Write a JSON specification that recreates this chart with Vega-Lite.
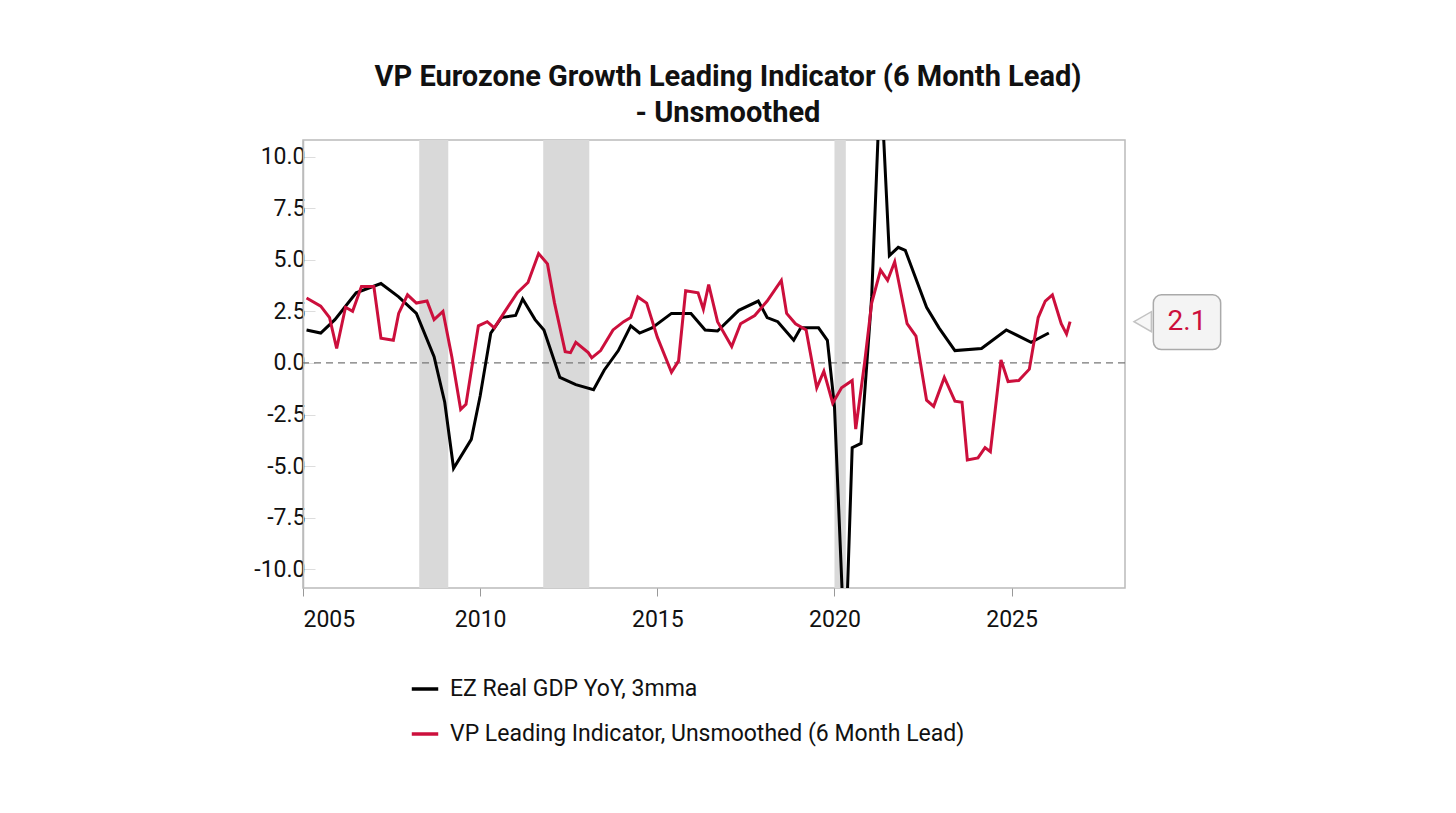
{
  "$schema": "https://vega.github.io/schema/vega-lite/v6.json",
  "autosize": {"type": "none"},
  "width": 822,
  "height": 448,
  "padding": {"left": 303, "top": 140, "right": 331, "bottom": 225},
  "background": "white",
  "config": {
    "font": "Roboto",
    "view": {"stroke": "#bbbbbb", "strokeWidth": 1.5},
    "axis": {"labelFont": "Roboto", "labelFontSize": 23, "labelColor": "#111", "grid": false}
  },
  "title": {
    "text": ["VP Eurozone Growth Leading Indicator (6 Month Lead)", "- Unsmoothed"],
    "fontSize": 29, "fontWeight": "bold", "font": "Roboto", "color": "#111",
    "anchor": "middle", "dx": 14, "offset": 12, "lineHeight": 36
  },
  "datasets": {
    "rec": [
      {"start": 2008.28, "end": 2009.1},
      {"start": 2011.78, "end": 2013.08},
      {"start": 2020.0, "end": 2020.32}
    ],
    "series": [
      {"date": 2005.1, "value": 1.6, "series": "EZ Real GDP YoY, 3mma"},
      {"date": 2005.5, "value": 1.45, "series": "EZ Real GDP YoY, 3mma"},
      {"date": 2005.9, "value": 2.1, "series": "EZ Real GDP YoY, 3mma"},
      {"date": 2006.5, "value": 3.4, "series": "EZ Real GDP YoY, 3mma"},
      {"date": 2007.2, "value": 3.85, "series": "EZ Real GDP YoY, 3mma"},
      {"date": 2007.7, "value": 3.2, "series": "EZ Real GDP YoY, 3mma"},
      {"date": 2008.2, "value": 2.4, "series": "EZ Real GDP YoY, 3mma"},
      {"date": 2008.7, "value": 0.3, "series": "EZ Real GDP YoY, 3mma"},
      {"date": 2009.0, "value": -1.9, "series": "EZ Real GDP YoY, 3mma"},
      {"date": 2009.25, "value": -5.1, "series": "EZ Real GDP YoY, 3mma"},
      {"date": 2009.75, "value": -3.7, "series": "EZ Real GDP YoY, 3mma"},
      {"date": 2010.0, "value": -1.6, "series": "EZ Real GDP YoY, 3mma"},
      {"date": 2010.3, "value": 1.45, "series": "EZ Real GDP YoY, 3mma"},
      {"date": 2010.6, "value": 2.2, "series": "EZ Real GDP YoY, 3mma"},
      {"date": 2011.0, "value": 2.3, "series": "EZ Real GDP YoY, 3mma"},
      {"date": 2011.2, "value": 3.1, "series": "EZ Real GDP YoY, 3mma"},
      {"date": 2011.55, "value": 2.1, "series": "EZ Real GDP YoY, 3mma"},
      {"date": 2011.8, "value": 1.6, "series": "EZ Real GDP YoY, 3mma"},
      {"date": 2012.25, "value": -0.7, "series": "EZ Real GDP YoY, 3mma"},
      {"date": 2012.7, "value": -1.05, "series": "EZ Real GDP YoY, 3mma"},
      {"date": 2013.2, "value": -1.3, "series": "EZ Real GDP YoY, 3mma"},
      {"date": 2013.5, "value": -0.35, "series": "EZ Real GDP YoY, 3mma"},
      {"date": 2013.9, "value": 0.6, "series": "EZ Real GDP YoY, 3mma"},
      {"date": 2014.25, "value": 1.8, "series": "EZ Real GDP YoY, 3mma"},
      {"date": 2014.5, "value": 1.45, "series": "EZ Real GDP YoY, 3mma"},
      {"date": 2014.85, "value": 1.7, "series": "EZ Real GDP YoY, 3mma"},
      {"date": 2015.4, "value": 2.4, "series": "EZ Real GDP YoY, 3mma"},
      {"date": 2015.95, "value": 2.4, "series": "EZ Real GDP YoY, 3mma"},
      {"date": 2016.35, "value": 1.6, "series": "EZ Real GDP YoY, 3mma"},
      {"date": 2016.7, "value": 1.55, "series": "EZ Real GDP YoY, 3mma"},
      {"date": 2017.3, "value": 2.55, "series": "EZ Real GDP YoY, 3mma"},
      {"date": 2017.85, "value": 3.0, "series": "EZ Real GDP YoY, 3mma"},
      {"date": 2018.1, "value": 2.2, "series": "EZ Real GDP YoY, 3mma"},
      {"date": 2018.4, "value": 2.0, "series": "EZ Real GDP YoY, 3mma"},
      {"date": 2018.85, "value": 1.1, "series": "EZ Real GDP YoY, 3mma"},
      {"date": 2019.05, "value": 1.7, "series": "EZ Real GDP YoY, 3mma"},
      {"date": 2019.55, "value": 1.7, "series": "EZ Real GDP YoY, 3mma"},
      {"date": 2019.8, "value": 1.1, "series": "EZ Real GDP YoY, 3mma"},
      {"date": 2020.0, "value": -2.1, "series": "EZ Real GDP YoY, 3mma"},
      {"date": 2020.3, "value": -14.5, "series": "EZ Real GDP YoY, 3mma"},
      {"date": 2020.5, "value": -4.1, "series": "EZ Real GDP YoY, 3mma"},
      {"date": 2020.75, "value": -3.9, "series": "EZ Real GDP YoY, 3mma"},
      {"date": 2021.05, "value": 3.2, "series": "EZ Real GDP YoY, 3mma"},
      {"date": 2021.3, "value": 14.0, "series": "EZ Real GDP YoY, 3mma"},
      {"date": 2021.55, "value": 5.2, "series": "EZ Real GDP YoY, 3mma"},
      {"date": 2021.8, "value": 5.6, "series": "EZ Real GDP YoY, 3mma"},
      {"date": 2022.0, "value": 5.45, "series": "EZ Real GDP YoY, 3mma"},
      {"date": 2022.6, "value": 2.7, "series": "EZ Real GDP YoY, 3mma"},
      {"date": 2022.95, "value": 1.7, "series": "EZ Real GDP YoY, 3mma"},
      {"date": 2023.4, "value": 0.6, "series": "EZ Real GDP YoY, 3mma"},
      {"date": 2024.15, "value": 0.7, "series": "EZ Real GDP YoY, 3mma"},
      {"date": 2024.85, "value": 1.6, "series": "EZ Real GDP YoY, 3mma"},
      {"date": 2025.55, "value": 1.0, "series": "EZ Real GDP YoY, 3mma"},
      {"date": 2026.05, "value": 1.45, "series": "EZ Real GDP YoY, 3mma"},
      {"date": 2005.1, "value": 3.15, "series": "VP Leading Indicator, Unsmoothed (6 Month Lead)"},
      {"date": 2005.5, "value": 2.75, "series": "VP Leading Indicator, Unsmoothed (6 Month Lead)"},
      {"date": 2005.75, "value": 2.2, "series": "VP Leading Indicator, Unsmoothed (6 Month Lead)"},
      {"date": 2005.95, "value": 0.7, "series": "VP Leading Indicator, Unsmoothed (6 Month Lead)"},
      {"date": 2006.2, "value": 2.7, "series": "VP Leading Indicator, Unsmoothed (6 Month Lead)"},
      {"date": 2006.4, "value": 2.5, "series": "VP Leading Indicator, Unsmoothed (6 Month Lead)"},
      {"date": 2006.65, "value": 3.7, "series": "VP Leading Indicator, Unsmoothed (6 Month Lead)"},
      {"date": 2007.0, "value": 3.7, "series": "VP Leading Indicator, Unsmoothed (6 Month Lead)"},
      {"date": 2007.2, "value": 1.2, "series": "VP Leading Indicator, Unsmoothed (6 Month Lead)"},
      {"date": 2007.55, "value": 1.1, "series": "VP Leading Indicator, Unsmoothed (6 Month Lead)"},
      {"date": 2007.7, "value": 2.4, "series": "VP Leading Indicator, Unsmoothed (6 Month Lead)"},
      {"date": 2007.95, "value": 3.3, "series": "VP Leading Indicator, Unsmoothed (6 Month Lead)"},
      {"date": 2008.2, "value": 2.9, "series": "VP Leading Indicator, Unsmoothed (6 Month Lead)"},
      {"date": 2008.5, "value": 3.0, "series": "VP Leading Indicator, Unsmoothed (6 Month Lead)"},
      {"date": 2008.7, "value": 2.1, "series": "VP Leading Indicator, Unsmoothed (6 Month Lead)"},
      {"date": 2008.95, "value": 2.5, "series": "VP Leading Indicator, Unsmoothed (6 Month Lead)"},
      {"date": 2009.2, "value": 0.3, "series": "VP Leading Indicator, Unsmoothed (6 Month Lead)"},
      {"date": 2009.45, "value": -2.25, "series": "VP Leading Indicator, Unsmoothed (6 Month Lead)"},
      {"date": 2009.6, "value": -2.0, "series": "VP Leading Indicator, Unsmoothed (6 Month Lead)"},
      {"date": 2009.95, "value": 1.8, "series": "VP Leading Indicator, Unsmoothed (6 Month Lead)"},
      {"date": 2010.2, "value": 2.0, "series": "VP Leading Indicator, Unsmoothed (6 Month Lead)"},
      {"date": 2010.4, "value": 1.7, "series": "VP Leading Indicator, Unsmoothed (6 Month Lead)"},
      {"date": 2010.7, "value": 2.5, "series": "VP Leading Indicator, Unsmoothed (6 Month Lead)"},
      {"date": 2011.05, "value": 3.4, "series": "VP Leading Indicator, Unsmoothed (6 Month Lead)"},
      {"date": 2011.35, "value": 3.9, "series": "VP Leading Indicator, Unsmoothed (6 Month Lead)"},
      {"date": 2011.65, "value": 5.3, "series": "VP Leading Indicator, Unsmoothed (6 Month Lead)"},
      {"date": 2011.9, "value": 4.8, "series": "VP Leading Indicator, Unsmoothed (6 Month Lead)"},
      {"date": 2012.1, "value": 2.9, "series": "VP Leading Indicator, Unsmoothed (6 Month Lead)"},
      {"date": 2012.4, "value": 0.55, "series": "VP Leading Indicator, Unsmoothed (6 Month Lead)"},
      {"date": 2012.55, "value": 0.5, "series": "VP Leading Indicator, Unsmoothed (6 Month Lead)"},
      {"date": 2012.7, "value": 1.0, "series": "VP Leading Indicator, Unsmoothed (6 Month Lead)"},
      {"date": 2013.05, "value": 0.5, "series": "VP Leading Indicator, Unsmoothed (6 Month Lead)"},
      {"date": 2013.15, "value": 0.25, "series": "VP Leading Indicator, Unsmoothed (6 Month Lead)"},
      {"date": 2013.4, "value": 0.6, "series": "VP Leading Indicator, Unsmoothed (6 Month Lead)"},
      {"date": 2013.75, "value": 1.6, "series": "VP Leading Indicator, Unsmoothed (6 Month Lead)"},
      {"date": 2014.05, "value": 2.0, "series": "VP Leading Indicator, Unsmoothed (6 Month Lead)"},
      {"date": 2014.25, "value": 2.2, "series": "VP Leading Indicator, Unsmoothed (6 Month Lead)"},
      {"date": 2014.45, "value": 3.2, "series": "VP Leading Indicator, Unsmoothed (6 Month Lead)"},
      {"date": 2014.7, "value": 2.9, "series": "VP Leading Indicator, Unsmoothed (6 Month Lead)"},
      {"date": 2015.0, "value": 1.25, "series": "VP Leading Indicator, Unsmoothed (6 Month Lead)"},
      {"date": 2015.4, "value": -0.45, "series": "VP Leading Indicator, Unsmoothed (6 Month Lead)"},
      {"date": 2015.6, "value": 0.1, "series": "VP Leading Indicator, Unsmoothed (6 Month Lead)"},
      {"date": 2015.8, "value": 3.5, "series": "VP Leading Indicator, Unsmoothed (6 Month Lead)"},
      {"date": 2016.15, "value": 3.4, "series": "VP Leading Indicator, Unsmoothed (6 Month Lead)"},
      {"date": 2016.3, "value": 2.6, "series": "VP Leading Indicator, Unsmoothed (6 Month Lead)"},
      {"date": 2016.45, "value": 3.8, "series": "VP Leading Indicator, Unsmoothed (6 Month Lead)"},
      {"date": 2016.7, "value": 2.0, "series": "VP Leading Indicator, Unsmoothed (6 Month Lead)"},
      {"date": 2017.1, "value": 0.8, "series": "VP Leading Indicator, Unsmoothed (6 Month Lead)"},
      {"date": 2017.35, "value": 1.9, "series": "VP Leading Indicator, Unsmoothed (6 Month Lead)"},
      {"date": 2017.75, "value": 2.3, "series": "VP Leading Indicator, Unsmoothed (6 Month Lead)"},
      {"date": 2018.1, "value": 3.0, "series": "VP Leading Indicator, Unsmoothed (6 Month Lead)"},
      {"date": 2018.5, "value": 4.0, "series": "VP Leading Indicator, Unsmoothed (6 Month Lead)"},
      {"date": 2018.65, "value": 2.4, "series": "VP Leading Indicator, Unsmoothed (6 Month Lead)"},
      {"date": 2018.9, "value": 1.9, "series": "VP Leading Indicator, Unsmoothed (6 Month Lead)"},
      {"date": 2019.2, "value": 1.6, "series": "VP Leading Indicator, Unsmoothed (6 Month Lead)"},
      {"date": 2019.5, "value": -1.2, "series": "VP Leading Indicator, Unsmoothed (6 Month Lead)"},
      {"date": 2019.7, "value": -0.4, "series": "VP Leading Indicator, Unsmoothed (6 Month Lead)"},
      {"date": 2019.95, "value": -1.95, "series": "VP Leading Indicator, Unsmoothed (6 Month Lead)"},
      {"date": 2020.2, "value": -1.2, "series": "VP Leading Indicator, Unsmoothed (6 Month Lead)"},
      {"date": 2020.5, "value": -0.85, "series": "VP Leading Indicator, Unsmoothed (6 Month Lead)"},
      {"date": 2020.6, "value": -3.2, "series": "VP Leading Indicator, Unsmoothed (6 Month Lead)"},
      {"date": 2020.85, "value": 0.0, "series": "VP Leading Indicator, Unsmoothed (6 Month Lead)"},
      {"date": 2021.05, "value": 2.9, "series": "VP Leading Indicator, Unsmoothed (6 Month Lead)"},
      {"date": 2021.3, "value": 4.5, "series": "VP Leading Indicator, Unsmoothed (6 Month Lead)"},
      {"date": 2021.5, "value": 4.0, "series": "VP Leading Indicator, Unsmoothed (6 Month Lead)"},
      {"date": 2021.7, "value": 4.9, "series": "VP Leading Indicator, Unsmoothed (6 Month Lead)"},
      {"date": 2022.05, "value": 1.9, "series": "VP Leading Indicator, Unsmoothed (6 Month Lead)"},
      {"date": 2022.3, "value": 1.3, "series": "VP Leading Indicator, Unsmoothed (6 Month Lead)"},
      {"date": 2022.6, "value": -1.8, "series": "VP Leading Indicator, Unsmoothed (6 Month Lead)"},
      {"date": 2022.8, "value": -2.1, "series": "VP Leading Indicator, Unsmoothed (6 Month Lead)"},
      {"date": 2023.1, "value": -0.7, "series": "VP Leading Indicator, Unsmoothed (6 Month Lead)"},
      {"date": 2023.4, "value": -1.85, "series": "VP Leading Indicator, Unsmoothed (6 Month Lead)"},
      {"date": 2023.6, "value": -1.9, "series": "VP Leading Indicator, Unsmoothed (6 Month Lead)"},
      {"date": 2023.75, "value": -4.7, "series": "VP Leading Indicator, Unsmoothed (6 Month Lead)"},
      {"date": 2024.05, "value": -4.6, "series": "VP Leading Indicator, Unsmoothed (6 Month Lead)"},
      {"date": 2024.25, "value": -4.1, "series": "VP Leading Indicator, Unsmoothed (6 Month Lead)"},
      {"date": 2024.4, "value": -4.3, "series": "VP Leading Indicator, Unsmoothed (6 Month Lead)"},
      {"date": 2024.7, "value": 0.15, "series": "VP Leading Indicator, Unsmoothed (6 Month Lead)"},
      {"date": 2024.9, "value": -0.9, "series": "VP Leading Indicator, Unsmoothed (6 Month Lead)"},
      {"date": 2025.2, "value": -0.85, "series": "VP Leading Indicator, Unsmoothed (6 Month Lead)"},
      {"date": 2025.5, "value": -0.3, "series": "VP Leading Indicator, Unsmoothed (6 Month Lead)"},
      {"date": 2025.75, "value": 2.2, "series": "VP Leading Indicator, Unsmoothed (6 Month Lead)"},
      {"date": 2025.95, "value": 3.0, "series": "VP Leading Indicator, Unsmoothed (6 Month Lead)"},
      {"date": 2026.15, "value": 3.3, "series": "VP Leading Indicator, Unsmoothed (6 Month Lead)"},
      {"date": 2026.4, "value": 1.9, "series": "VP Leading Indicator, Unsmoothed (6 Month Lead)"},
      {"date": 2026.55, "value": 1.4, "series": "VP Leading Indicator, Unsmoothed (6 Month Lead)"},
      {"date": 2026.65, "value": 2.0, "series": "VP Leading Indicator, Unsmoothed (6 Month Lead)"}
    ],
    "callout": [{"x1": 2029.0, "x2": 2030.9, "y1": 0.65, "y2": 3.3, "tip": 2028.7, "ty": 2.0, "label": "2.1", "lx": 2029.95}]
  },
  "layer": [
    {
      "data": {"name": "rec"},
      "mark": {"type": "rect", "color": "#d9d9d9"},
      "encoding": {
        "x": {"field": "start", "type": "quantitative",
          "scale": {"domain": [2005, 2028.2], "nice": false, "zero": false},
          "axis": {"values": [2005, 2010, 2015, 2020, 2025], "format": "d", "title": null,
            "domain": false, "tickColor": "#999", "tickSize": 8, "labelPadding": 12}},
        "x2": {"field": "end"}
      }
    },
    {
      "data": {"values": [{"v": 0}]},
      "mark": {"type": "rule", "strokeDash": [7, 5], "color": "#777", "strokeWidth": 1.3},
      "encoding": {"y": {"field": "v", "type": "quantitative"}}
    },
    {
      "data": {"name": "series"},
      "mark": {"type": "line", "strokeWidth": 3, "clip": true},
      "encoding": {
        "x": {"field": "date", "type": "quantitative"},
        "y": {"field": "value", "type": "quantitative",
          "scale": {"domain": [-10.9, 10.8], "nice": false},
          "axis": {"values": [-10, -7.5, -5, -2.5, 0, 2.5, 5, 7.5, 10], "title": null,
            "labelExpr": "replace(format(datum.value, '.1f'), '\u2212', '-')",
            "domainColor": "#bbb", "domainWidth": 1.5, "tickColor": "#ddd", "tickSize": -12, "labelPadding": 10}},
        "color": {"field": "series", "type": "nominal",
          "scale": {"domain": ["EZ Real GDP YoY, 3mma", "VP Leading Indicator, Unsmoothed (6 Month Lead)"], "range": ["#000000", "#cc0f3c"]},
          "legend": {"orient": "none", "legendX": 107, "legendY": 534, "direction": "vertical", "title": null,
            "symbolType": "stroke", "symbolStrokeWidth": 3.5, "symbolSize": 700, "labelFontSize": 23, "labelFont": "Roboto",
            "labelColor": "#111", "rowPadding": 18, "labelOffset": 10, "labelLimit": 0}}
      }
    },
    {
      "data": {"name": "callout"},
      "mark": {"type": "point", "shape": "triangle-left", "clip": false, "filled": true, "fill": "#f4f4f4", "stroke": "#aaa", "strokeWidth": 1.5, "size": 400},
      "encoding": {"x": {"field": "tip", "type": "quantitative"}, "y": {"field": "ty", "type": "quantitative"}}
    },
    {
      "data": {"name": "callout"},
      "mark": {"type": "rect", "clip": false, "fill": "#f4f4f4", "stroke": "#aaa", "strokeWidth": 1.5, "cornerRadius": 8},
      "encoding": {"x": {"field": "x1", "type": "quantitative"}, "x2": {"field": "x2"}, "y": {"field": "y1", "type": "quantitative"}, "y2": {"field": "y2"}}
    },
    {
      "data": {"name": "callout"},
      "mark": {"type": "text", "clip": false, "color": "#cc0f3c", "fontSize": 28, "font": "Roboto"},
      "encoding": {"x": {"field": "lx", "type": "quantitative"}, "y": {"field": "ty", "type": "quantitative"}, "text": {"field": "label"}}
    }
  ]
}
